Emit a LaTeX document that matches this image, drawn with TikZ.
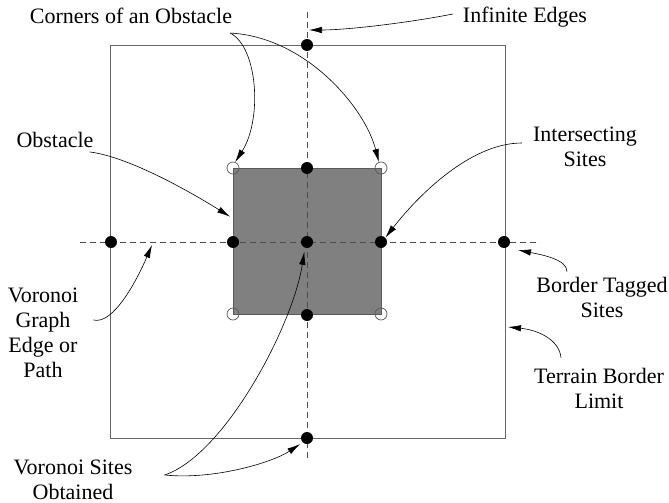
\documentclass[tikz,border=0pt]{standalone}
\usepackage{fontspec}
\setmainfont{Liberation Serif}
\usetikzlibrary{arrows.meta}
\begin{document}
\begin{tikzpicture}[x=1pt,y=-1pt] % ось y вниз, как в пикселях
\tikzstyle{mydot} = [circle, minimum width=12pt, fill, inner sep=0pt] % точка Вороного
\tikzstyle{mycorner} = [circle, minimum width=12pt, draw=black!65, line width=0.7pt, inner sep=0pt] % угол препятствия
\tikzstyle{mylabel} = [font=\fontsize{22}{25}\selectfont, align=center, inner sep=2pt] % подписи
\tikzstyle{myarrow} = [-{Latex[length=13pt,width=6.5pt]}, line width=0.6pt] % стрелки к подписям
\tikzstyle{myedge} = [dashed, dash pattern=on 6pt off 4pt, draw=black!70, line width=0.7pt] % рёбра графа

\useasboundingbox (0,0) rectangle (669,503);

% граница местности и препятствие
\draw[black!60, line width=0.8pt] (110,45) rectangle (505,438);
\node[draw=black!65, fill=black!50, line width=0.8pt, minimum width=148pt, minimum height=146pt, inner sep=0pt] (obst) at (307,241) {};

% рёбра
\draw[myedge] (307,12) -- (307,460);
\draw[myedge] (80,242) -- (540,242);

% сайты
\node[mydot] (top) at (307,45) {};
\node[mydot] (ot) at (307,168) {};
\node[mydot] (ol) at (233,242) {};
\node[mydot] (mid) at (307,242) {};
\node[mydot] (or) at (381,242) {};
\node[mydot] (ob) at (307,315) {};
\node[mydot] (bl) at (111,242) {};
\node[mydot] (br) at (504,242) {};
\node[mydot] (bot) at (307,438) {};
\node[mycorner] (c1) at (233,168) {};
\node[mycorner] (c2) at (381,168) {};
\node[mycorner] (c3) at (233,314) {};
\node[mycorner] (c4) at (381,314) {};

% подписи
\node[mylabel] (corners) at (131,16) {Corners of an Obstacle};
\node[mylabel] (infinite) at (525,17) {Infinite Edges};
\node[mylabel] (obstacle) at (55,140) {Obstacle};
\node[mylabel] (intersect) at (585,147) {Intersecting\\Sites};
\node[mylabel] (tagged) at (602,297) {Border Tagged\\Sites};
\node[mylabel] (terrain) at (599,388) {Terrain Border\\Limit};
\node[mylabel] (vgraph) at (43,333) {Voronoi\\Graph\\Edge or\\Path};
\node[mylabel] (vsites) at (73,480) {Voronoi Sites\\Obtained};

\coordinate (ie) at (309,30); % конец стрелки к ребру
\coordinate (ve) at (152,245);
\coordinate (tb) at (508,327);

% стрелки
\draw[myarrow] ([shift={(-4,7)}]corners.south east) .. controls +(28,15) and +(27,-42) .. (c1.70);
\draw[myarrow] ([shift={(-4,7)}]corners.south east) .. controls +(75,4) and +(-14,-55) .. (c2.110);
\draw[myarrow] ([shift={(-8,-3)}]infinite.west) .. controls +(-40,8) and +(40,0) .. (ie);
\draw[myarrow, shorten >=3pt] ([shift={(-6,2)}]obstacle.south east) .. controls +(40,5) and +(-40,-25) .. (obst.163);
\draw[myarrow] ([shift={(-9,-4)}]intersect.west) .. controls +(-50,0) and +(35,-45) .. (or.north east);
\draw[myarrow] ([shift={(-35,-3)}]tagged.north) .. controls +(0,-12) and +(25,5) .. ([shift={(14,8)}]br.center);
\draw[myarrow] ([shift={(-38,-8)}]terrain.north) .. controls +(-2,-18) and +(30,3) .. (tb);
\draw[myarrow] ([shift={(13,-13)}]vgraph.east) .. controls +(20,5) and +(-15,35) .. (ve);
\draw[myarrow, shorten >=4pt] ([shift={(30,-5)}]vsites.east) .. controls +(60,-20) and +(-12,78) .. (mid.250);
\draw[myarrow, shorten >=3pt] ([shift={(30,-5)}]vsites.east) .. controls +(50,5) and +(-30,20) .. (bot.225);
\end{tikzpicture}
\end{document}
